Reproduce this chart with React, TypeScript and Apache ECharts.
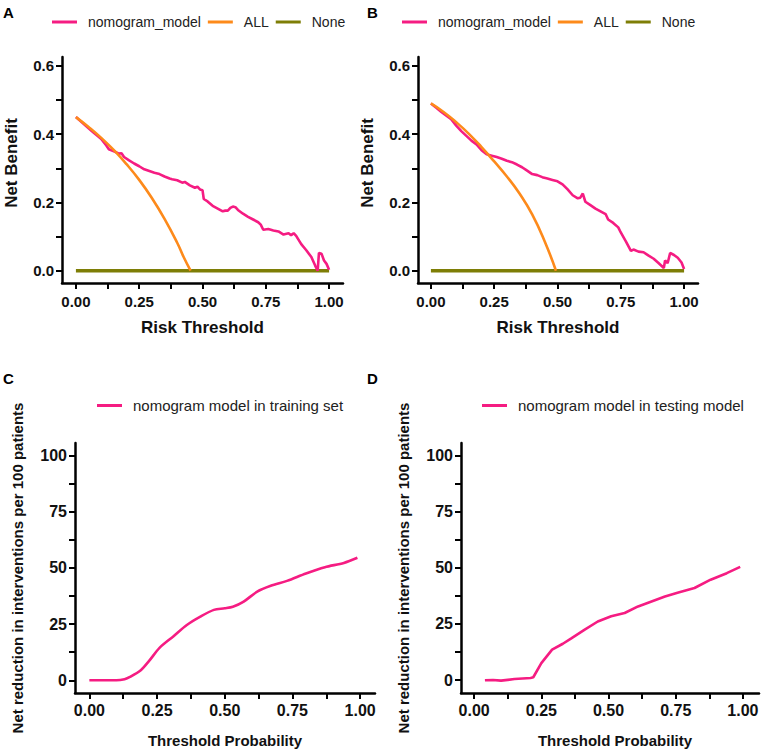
import React, { useEffect, useRef } from "react";
import * as echarts from "echarts";

// ---- Panel A (training DCA) ----
const aModelThreshold = [0, 0.02, 0.04, 0.06, 0.08, 0.1, 0.12, 0.13, 0.15, 0.17, 0.18, 0.19, 0.21, 0.23, 0.25, 0.27, 0.29, 0.31, 0.33, 0.35, 0.37, 0.38, 0.4, 0.42, 0.43, 0.45, 0.47, 0.48, 0.49, 0.5, 0.505, 0.52, 0.54, 0.56, 0.58, 0.59, 0.6, 0.61, 0.62, 0.63, 0.64, 0.66, 0.68, 0.7, 0.72, 0.73, 0.74, 0.76, 0.78, 0.8, 0.82, 0.84, 0.85, 0.86, 0.87, 0.89, 0.91, 0.93, 0.945, 0.955, 0.96, 0.97, 0.98, 0.99, 1.0];
const aModelBenefit = [0.45, 0.437, 0.424, 0.411, 0.398, 0.386, 0.367, 0.356, 0.35, 0.343, 0.344, 0.333, 0.323, 0.314, 0.306, 0.297, 0.292, 0.287, 0.283, 0.276, 0.27, 0.268, 0.265, 0.258, 0.26, 0.25, 0.243, 0.246, 0.238, 0.236, 0.21, 0.203, 0.19, 0.182, 0.174, 0.176, 0.176, 0.184, 0.188, 0.186, 0.178, 0.167, 0.158, 0.15, 0.142, 0.135, 0.12, 0.122, 0.118, 0.115, 0.106, 0.11, 0.104, 0.11, 0.102, 0.078, 0.06, 0.04, 0.015, 0.0, 0.052, 0.05, 0.03, 0.02, 0.003];
const aAllThreshold = [0, 0.05, 0.1, 0.15, 0.2, 0.25, 0.3, 0.35, 0.4, 0.425, 0.453];
const aAllBenefit = [0.45, 0.421, 0.389, 0.353, 0.312, 0.266, 0.213, 0.152, 0.082, 0.041, 0.0];
const aNoneThreshold = [0, 1];
const aNoneBenefit = [0, 0];

// ---- Panel B (testing DCA) ----
const bModelThreshold = [0, 0.02, 0.04, 0.06, 0.08, 0.1, 0.12, 0.14, 0.16, 0.18, 0.2, 0.22, 0.24, 0.26, 0.28, 0.3, 0.32, 0.34, 0.36, 0.38, 0.4, 0.42, 0.44, 0.46, 0.48, 0.5, 0.52, 0.54, 0.56, 0.58, 0.59, 0.6, 0.61, 0.63, 0.65, 0.67, 0.69, 0.7, 0.72, 0.74, 0.75, 0.77, 0.79, 0.8, 0.82, 0.84, 0.86, 0.88, 0.9, 0.92, 0.925, 0.935, 0.945, 0.96, 0.975, 0.99, 1.0];
const bModelBenefit = [0.49, 0.478, 0.466, 0.455, 0.444, 0.425, 0.409, 0.395, 0.381, 0.37, 0.353, 0.341, 0.337, 0.333, 0.328, 0.322, 0.318, 0.311, 0.303, 0.293, 0.283, 0.28, 0.274, 0.27, 0.266, 0.262, 0.253, 0.238, 0.221, 0.212, 0.214, 0.226, 0.202, 0.192, 0.182, 0.174, 0.166, 0.15, 0.14, 0.127, 0.112, 0.086, 0.058, 0.062, 0.056, 0.054, 0.044, 0.035, 0.022, 0.008, 0.03, 0.022, 0.052, 0.046, 0.038, 0.024, 0.005];
const bAllThreshold = [0, 0.05, 0.1, 0.15, 0.2, 0.25, 0.3, 0.35, 0.4, 0.45, 0.494];
const bAllBenefit = [0.49, 0.465, 0.435, 0.401, 0.362, 0.32, 0.276, 0.226, 0.165, 0.085, 0.0];
const bNoneThreshold = [0, 1];
const bNoneBenefit = [0, 0];

// ---- Panel C (training clinical impact) ----
const cThreshold = [0, 0.05, 0.1, 0.13, 0.15, 0.19, 0.22, 0.26, 0.31, 0.36, 0.41, 0.46, 0.5, 0.53, 0.57, 0.62, 0.67, 0.73, 0.8, 0.87, 0.94, 0.99];
const cReduction = [0, 0, 0, 0.5, 1.5, 4.5, 8.5, 14.5, 19.5, 24.6, 28.3, 31.3, 32.0, 32.7, 35.0, 39.4, 42.0, 44.2, 47.5, 50.3, 52.2, 54.5];

// ---- Panel D (testing clinical impact) ----
const dThreshold = [0.04, 0.07, 0.1, 0.15, 0.21, 0.22, 0.25, 0.29, 0.33, 0.36, 0.41, 0.46, 0.51, 0.56, 0.61, 0.66, 0.71, 0.76, 0.82, 0.88, 0.94, 0.99];
const dReduction = [0, 0.1, -0.2, 0.5, 1.0, 1.3, 7.6, 13.6, 16.2, 18.5, 22.4, 26.1, 28.4, 29.9, 32.8, 35.0, 37.2, 39.0, 41.0, 44.7, 47.6, 50.4];

// ---- ticks ----
const dcaXTicks = [0, 0.125, 0.25, 0.375, 0.5, 0.625, 0.75, 0.875, 1];
const dcaXLabels = [0, 0.25, 0.5, 0.75, 1];
const dcaYTicks = [0, 0.1, 0.2, 0.3, 0.4, 0.5, 0.6];
const dcaYLabels = [0, 0.2, 0.4, 0.6];
const cicYTicks = [0, 12.5, 25, 37.5, 50, 62.5, 75, 87.5, 100];
const cicYLabels = [0, 25, 50, 75, 100];

const PINK = "#f51c82";
const ORANGE = "#fd8a1b";
const OLIVE = "#7e7e06";
const FONT = "'Liberation Sans', Arial, sans-serif";

const zip = (xs: number[], ys: number[]) => xs.map((x, i) => [x, ys[i]]);

function xAxisCfg(grid: number, min: number, max: number, name: string, nameGap: number, labelSize: number, nameSize: number, namePad: number[]) {
  return {
    type: "value",
    gridIndex: grid,
    min,
    max,
    name,
    nameLocation: "middle",
    nameGap,
    nameTextStyle: { fontFamily: FONT, fontWeight: "bold", fontSize: nameSize, color: "#111", padding: namePad },
    axisLine: { show: true, onZero: false, lineStyle: { color: "#000", width: 2.5 } },
    axisTick: { show: true, customValues: dcaXTicks, length: 6, lineStyle: { color: "#000", width: 2 } },
    axisLabel: {
      customValues: dcaXLabels,
      margin: labelSize === 15 ? 11 : 9,
      fontFamily: FONT,
      fontWeight: "bold",
      fontSize: labelSize,
      color: "#111",
      formatter: (v: number) => v.toFixed(2),
    },
    splitLine: { show: false },
  };
}

function yAxisCfg(grid: number, min: number, max: number, ticks: number[], labels: number[], digits: number, name: string, nameGap: number, labelSize: number, nameSize: number, namePad: number[]) {
  return {
    type: "value",
    gridIndex: grid,
    min,
    max,
    name,
    nameLocation: "middle",
    nameRotate: 90,
    nameGap,
    nameTextStyle: { fontFamily: FONT, fontWeight: "bold", fontSize: nameSize, color: "#111", padding: namePad },
    axisLine: { show: true, onZero: false, lineStyle: { color: "#000", width: 2.5 } },
    axisTick: { show: true, customValues: ticks, length: 6, lineStyle: { color: "#000", width: 2 } },
    axisLabel: {
      customValues: labels,
      margin: 8,
      fontFamily: FONT,
      fontWeight: "bold",
      fontSize: labelSize,
      color: "#111",
      formatter: (v: number) => v.toFixed(digits),
    },
    splitLine: { show: false },
  };
}

function lineSeries(name: string, xi: number, data: number[][], color: string, width: number, z: number, smooth: boolean | number) {
  return {
    type: "line",
    name,
    xAxisIndex: xi,
    yAxisIndex: xi,
    data,
    showSymbol: false,
    symbol: "none",
    smooth,
    z,
    lineStyle: { color, width },
    itemStyle: { color },
  };
}

function legendCfg(left: number, top: number, data: string[], fontSize: number) {
  return {
    left,
    top,
    padding: 0,
    itemWidth: 25,
    itemHeight: 3,
    itemGap: 7,
    icon: "rect",
    data,
    selectedMode: false,
    textStyle: { fontFamily: FONT, fontSize, color: "#222", padding: [0, 0, 0, 6] },
  };
}

export default function App() {
  const ref = useRef<HTMLDivElement>(null);
  useEffect(() => {
    if (!ref.current) return;
    const chart = echarts.init(ref.current, null, { renderer: "svg" });
    const option = {
      animation: false,
      backgroundColor: "#fff",
      textStyle: { fontFamily: FONT },
      grid: [
        { left: 62, top: 57, width: 281, height: 226 },
        { left: 418, top: 57, width: 280, height: 226 },
        { left: 75, top: 443, width: 300, height: 250 },
        { left: 461, top: 443, width: 298, height: 250 },
      ],
      xAxis: [
        xAxisCfg(0, -0.055, 1.055, "Risk Threshold", 36, 15, 17, [0, 0, 0, 0]),
        xAxisCfg(1, -0.051, 1.055, "Risk Threshold", 36, 15, 17, [0, 0, 0, 0]),
        xAxisCfg(2, -0.053, 1.055, "Threshold Probability", 40, 16, 15, [0, 0, 0, 0]),
        xAxisCfg(3, -0.049, 1.06, "Threshold Probability", 40, 16, 15, [0, 0, 0, 10]),
      ],
      yAxis: [
        yAxisCfg(0, -0.036, 0.626, dcaYTicks, dcaYLabels, 1, "Net Benefit", 42, 15, 17, [0, 0, 0, 14]),
        yAxisCfg(1, -0.036, 0.626, dcaYTicks, dcaYLabels, 1, "Net Benefit", 42, 15, 17, [0, 0, 0, 14]),
        yAxisCfg(2, -5.65, 105.5, cicYTicks, cicYLabels, 0, "Net reduction in interventions per 100 patients", 50, 16, 15, [0, 0, 0, 0]),
        yAxisCfg(3, -5.7, 105.5, cicYTicks, cicYLabels, 0, "Net reduction in interventions per 100 patients", 50, 16, 15, [0, 0, 0, 0]),
      ],
      legend: [
        legendCfg(52, 15, ["nomogram_model", "ALL", "None"], 14),
        legendCfg(402, 15, ["nomogram_model", "ALL", "None"], 14),
        legendCfg(97, 398, ["nomogram model in training set"], 15),
        legendCfg(482, 398, ["nomogram model in testing model"], 15),
      ],
      series: [
        lineSeries("None", 0, zip(aNoneThreshold, aNoneBenefit), OLIVE, 3.5, 1, false),
        lineSeries("nomogram_model", 0, zip(aModelThreshold, aModelBenefit), PINK, 2.6, 2, false),
        lineSeries("ALL", 0, zip(aAllThreshold, aAllBenefit), ORANGE, 2.6, 3, true),
        lineSeries("None", 1, zip(bNoneThreshold, bNoneBenefit), OLIVE, 3.5, 1, false),
        lineSeries("nomogram_model", 1, zip(bModelThreshold, bModelBenefit), PINK, 2.6, 2, false),
        lineSeries("ALL", 1, zip(bAllThreshold, bAllBenefit), ORANGE, 2.6, 3, true),
        lineSeries("nomogram model in training set", 2, zip(cThreshold, cReduction), PINK, 2.6, 2, 0.3),
        lineSeries("nomogram model in testing model", 3, zip(dThreshold, dReduction), PINK, 2.6, 2, false),
      ],
      graphic: [
        { type: "text", left: 3, top: 5, style: { text: "A", fontFamily: FONT, fontWeight: "bold", fontSize: 15, fill: "#000" } },
        { type: "text", left: 367, top: 5, style: { text: "B", fontFamily: FONT, fontWeight: "bold", fontSize: 15, fill: "#000" } },
        { type: "text", left: 3, top: 371, style: { text: "C", fontFamily: FONT, fontWeight: "bold", fontSize: 15, fill: "#000" } },
        { type: "text", left: 367, top: 371, style: { text: "D", fontFamily: FONT, fontWeight: "bold", fontSize: 15, fill: "#000" } },
      ],
    };
    chart.setOption(option as any);
    return () => chart.dispose();
  }, []);
  return <div ref={ref} style={{ position: "fixed", left: 0, top: 0, width: 767, height: 753 }} />;
}
